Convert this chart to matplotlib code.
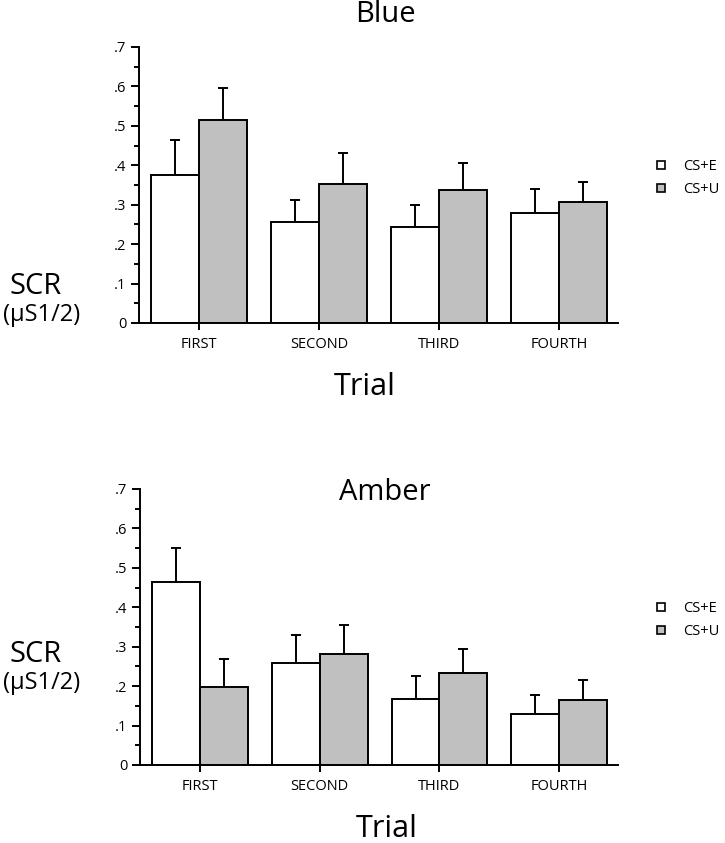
import numpy as np
import matplotlib
matplotlib.use('Agg')
import matplotlib.pyplot as plt
from matplotlib.patches import Patch
from matplotlib.ticker import FuncFormatter, MultipleLocator

plt.rcParams['font.family'] = ['Open Sans', 'DejaVu Sans']

trials = ['FIRST', 'SECOND', 'THIRD', 'FOURTH']
series = ['CS+E', 'CS+U']

# Blue panel: means and upper error (top of whisker)
blue_cse = [0.376, 0.257, 0.243, 0.278]
blue_cse_err = [0.464, 0.312, 0.300, 0.341]
blue_csu = [0.516, 0.352, 0.338, 0.306]
blue_csu_err = [0.595, 0.432, 0.407, 0.358]

# Amber panel
amber_cse = [0.463, 0.258, 0.168, 0.129]
amber_cse_err = [0.550, 0.330, 0.226, 0.178]
amber_csu = [0.199, 0.282, 0.234, 0.164]
amber_csu_err = [0.269, 0.355, 0.293, 0.216]

panels = [('Blue', blue_cse, blue_cse_err, blue_csu, blue_csu_err),
          ('Amber', amber_cse, amber_cse_err, amber_csu, amber_csu_err)]

fig = plt.figure(figsize=(7.25, 8.43), dpi=100)
ax_rects = [[139/725, 1-323/843, 479/725, 276/843],
            [140/725, 1-765/843, 478/725, 276/843]]
title_y = [15, 493]
trial_y = [387, 829]
trial_x = [365, 387]
scr_y = [287, 655]

fmt = FuncFormatter(lambda v, p: '0' if abs(v) < 1e-9 else ('%.1f' % v).lstrip('0'))
w = 0.4
lw = 1.4

for i, (name, e, ee, u, ue) in enumerate(panels):
    ax = fig.add_axes(ax_rects[i])
    x = np.arange(len(trials))
    e = np.array(e); u = np.array(u)
    yerr_e = [np.zeros(4), np.array(ee) - e]
    yerr_u = [np.zeros(4), np.array(ue) - u]
    ax.bar(x - w/2, e, w, color='white', edgecolor='black', linewidth=lw, zorder=2)
    ax.bar(x + w/2, u, w, color='#c0c0c0', edgecolor='black', linewidth=lw, zorder=2)
    ax.errorbar(x - w/2, e, yerr=yerr_e, fmt='none', ecolor='black', elinewidth=lw,
                capsize=3.5, capthick=lw, zorder=1)
    ax.errorbar(x + w/2, u, yerr=yerr_u, fmt='none', ecolor='black', elinewidth=lw,
                capsize=3.5, capthick=lw, zorder=1)

    ax.set_xlim(-0.5, 3.49)
    ax.set_ylim(0, 0.7)
    ax.spines['top'].set_visible(False)
    ax.spines['right'].set_visible(False)
    ax.spines['left'].set_linewidth(lw)
    ax.spines['bottom'].set_linewidth(lw)
    ax.yaxis.set_major_locator(MultipleLocator(0.1))
    ax.yaxis.set_minor_locator(MultipleLocator(0.05))
    ax.yaxis.set_major_formatter(fmt)
    ax.tick_params(axis='y', which='major', length=6, width=lw, labelsize=10.5, pad=3)
    ax.tick_params(axis='y', which='minor', length=3.5, width=lw)
    ax.set_xticks(x)
    ax.set_xticklabels(trials)
    ax.tick_params(axis='x', length=5, width=lw, labelsize=10.5, pad=5)
    ax.set_facecolor('none')

    handles = [Patch(facecolor='white', edgecolor='black', linewidth=1.2),
               Patch(facecolor='#c0c0c0', edgecolor='black', linewidth=1.2)]
    ax.legend(handles, series, loc='center left', bbox_to_anchor=(1.07, 0.525),
              frameon=False, handlelength=0.55, handleheight=0.55, handletextpad=1.2,
              labelspacing=0.55, fontsize=10.5, borderaxespad=0)

    fig.text(385/725, 1 - title_y[i]/843, name, ha='center', va='center', fontsize=21)
    fig.text(trial_x[i]/725, 1 - trial_y[i]/843, 'Trial', ha='center', va='center', fontsize=22)
    fig.text(36/725, 1 - scr_y[i]/843, 'SCR', ha='center', va='center', fontsize=21)
    fig.text(42/725, 1 - (scr_y[i] + 28)/843, '(\u00b5S1/2)', ha='center', va='center', fontsize=17)

fig.savefig('out.png', dpi=100)
